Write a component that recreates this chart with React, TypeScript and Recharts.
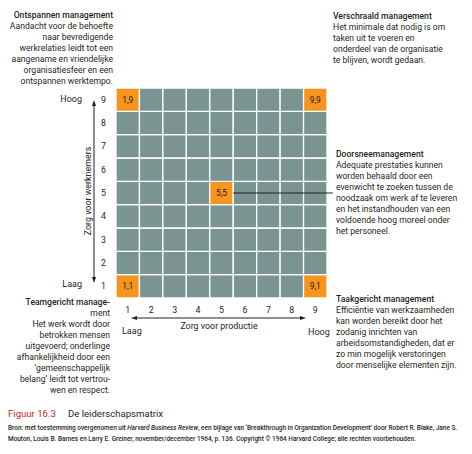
import { ScatterChart, Scatter, XAxis, YAxis, ReferenceArea, ReferenceLine, LabelList } from 'recharts';

const levels = [1, 2, 3, 4, 5, 6, 7, 8, 9];

const styles = [
  { x: 1, y: 9, label: '1,9' },
  { x: 9, y: 9, label: '9,9' },
  { x: 5, y: 5, label: '5,5' },
  { x: 1, y: 1, label: '1,1' },
  { x: 9, y: 1, label: '9,1' },
];

const topLeftText = [
  'Ontspannen management',
  'Aandacht voor de behoefte',
  'naar bevredigende',
  'werkrelaties leidt tot een',
  'aangename en vriendelijke',
  'organisatiesfeer en een',
  'ontspannen werktempo.',
];
const topRightText = [
  'Verschraald management',
  'Het minimale dat nodig is om',
  'taken uit te voeren en',
  'onderdeel van de organisatie',
  'te blijven, wordt gedaan.',
];
const middleText = [
  'Doorsneemanagement',
  'Adequate prestaties kunnen',
  'worden behaald door een',
  'evenwicht te zoeken tussen de',
  'noodzaak om werk af te leveren',
  'en het instandhouden van een',
  'voldoende hoog moreel onder',
  'het personeel.',
];
const bottomLeftText = [
  'Teamgericht manage-',
  'ment',
  'Het werk wordt door',
  'betrokken mensen',
  'uitgevoerd; onderlinge',
  'afhankelijkheid door een',
  '‘gemeenschappelijk',
  'belang’ leidt tot vertrou-',
  'wen en respect.',
];
const bottomRightText = [
  'Taakgericht management',
  'Efficiëntie van werkzaamheden',
  'kan worden bereikt door het',
  'zodanig inrichten van',
  'arbeidsomstandigheden, dat er',
  'zo min mogelijk verstoringen',
  'door menselijke elementen zijn.',
];

const INK = '#231f20';
const TEAL = '#7a9492';
const ORANGE = '#f7941d';
const FONT = 'Roboto, "Noto Sans", sans-serif';

const cells = levels.flatMap((x) => levels.map((y) => ({ x, y })));
const isStyle = (x: number, y: number) => styles.some((s) => s.x === x && s.y === y);

function TextBlock({ lines, style }: { lines: string[]; style: React.CSSProperties }) {
  return (
    <div style={{ position: 'absolute', fontSize: 8.6, lineHeight: '11px', color: INK, whiteSpace: 'nowrap', ...style }}>
      {lines.map((l, i) => (
        <div key={i} style={{ fontWeight: i === 0 ? 500 : 400 }}>{l}</div>
      ))}
    </div>
  );
}

export default function App() {
  return (
    <div style={{ position: 'absolute', left: 0, top: 0, width: 472, height: 454, background: '#fff', fontFamily: FONT, overflow: 'hidden' }}>
      <ScatterChart width={472} height={454} margin={{ top: 88, right: 145, bottom: 136, left: 96 }}>
        <XAxis
          type="number" dataKey="x" domain={[0.5, 9.5]} ticks={levels} height={20}
          axisLine={false} tickLine={false} tickSize={0} tickMargin={9}
          tick={{ fill: INK, fontSize: 8.8, fontFamily: FONT }}
        />
        <YAxis
          type="number" dataKey="y" domain={[0.5, 9.5]} ticks={levels} width={20}
          axisLine={false} tickLine={false} tickSize={0} tickMargin={10}
          tick={{ fill: INK, fontSize: 8.8, fontFamily: FONT }}
        />
        {cells.map((c) => (
          <ReferenceArea
            key={`${c.x}-${c.y}`}
            x1={c.x - 0.5} x2={c.x + 0.5} y1={c.y - 0.5} y2={c.y + 0.5}
            fill={isStyle(c.x, c.y) ? ORANGE : TEAL} fillOpacity={1}
            stroke="#fff" strokeWidth={1.3}
          />
        ))}
        <ReferenceLine
          segment={[{ x: 5.5, y: 5 }, { x: 9.75, y: 5 }]}
          stroke={INK} strokeWidth={1} ifOverflow="visible"
        />
        <Scatter data={styles} isAnimationActive={false} shape={() => <g />}>
          <LabelList dataKey="label" position="center" fill={INK} fontSize={8.3} fontFamily={FONT} />
        </Scatter>
      </ScatterChart>

      <svg width={472} height={454} style={{ position: 'absolute', left: 0, top: 0, pointerEvents: 'none' }}>
        <line x1={94} y1={103} x2={94} y2={280} stroke={INK} strokeWidth={1} />
        <path d="M94 100 L92 106 L96 106 Z" fill={INK} />
        <path d="M94 283 L92 277 L96 277 Z" fill={INK} />
        <line x1={134} y1={318} x2={303} y2={318} stroke={INK} strokeWidth={1} />
        <path d="M131 318 L137 316 L137 320 Z" fill={INK} />
        <path d="M306 318 L300 316 L300 320 Z" fill={INK} />
        <text x={88} y={191} transform="rotate(-90 88 191)" textAnchor="middle" dominantBaseline="central"
          fontSize={8.9} fill={INK} fontFamily={FONT}>Zorg voor werknemers</text>
        <text x={82} y={99} textAnchor="end" dominantBaseline="central" fontSize={9} fill={INK} fontFamily={FONT}>Hoog</text>
        <text x={82} y={284} textAnchor="end" dominantBaseline="central" fontSize={9} fill={INK} fontFamily={FONT}>Laag</text>
        <text x={219} y={326} textAnchor="middle" dominantBaseline="central" fontSize={8.9} fill={INK} fontFamily={FONT}>Zorg voor productie</text>
        <text x={122} y={331} dominantBaseline="central" fontSize={9} fill={INK} fontFamily={FONT}>Laag</text>
        <text x={308} y={332} dominantBaseline="central" fontSize={9} fill={INK} fontFamily={FONT}>Hoog</text>
      </svg>

      <TextBlock lines={topLeftText} style={{ right: 359, top: 10, textAlign: 'right' }} />
      <TextBlock lines={topRightText} style={{ left: 333, top: 11 }} />
      <TextBlock lines={middleText} style={{ left: 336, top: 149 }} />
      <TextBlock lines={bottomLeftText} style={{ right: 362, top: 297, textAlign: 'right' }} />
      <TextBlock lines={bottomRightText} style={{ left: 336, top: 294 }} />

      <div style={{ position: 'absolute', left: 8, top: 408, fontSize: 9.6, lineHeight: '12px', color: INK, whiteSpace: 'nowrap' }}>
        <span style={{ color: '#d2232a' }}>Figuur 16.3</span>
        <span style={{ marginLeft: 12 }}>De leiderschapsmatrix</span>
      </div>
      <div style={{ position: 'absolute', left: 8, top: 423, fontSize: 6.45, lineHeight: '10.5px', color: INK, whiteSpace: 'nowrap', fontWeight: 500 }}>
        <div>Bron: met toestemming overgenomen uit <i>Harvard Business Review</i>, een bijlage van ‘Breakthrough in Organization Development’ door Robert R. Blake, Jane S.</div>
        <div>Mouton, Louis B. Barnes en Larry E. Greiner, november/december 1964, p. 136. Copyright © 1964 Harvard College; alle rechten voorbehouden.</div>
      </div>
    </div>
  );
}
